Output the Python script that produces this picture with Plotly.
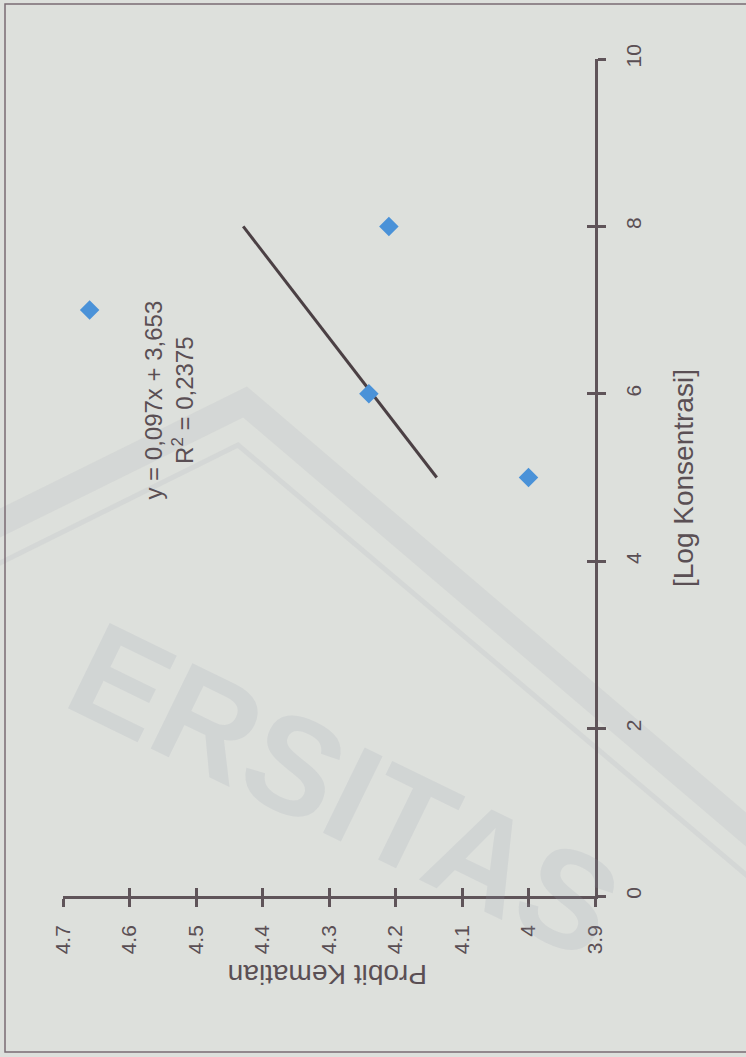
import plotly.graph_objects as go

# Observed data: log concentration vs. probit mortality
log_konsentrasi = [5, 6, 7, 8]
probit_kematian = [4.00, 4.24, 4.66, 4.21]

# Linear trendline reported on the chart
slope = 0.097
intercept = 3.653
trend_x = [5, 8]

# Axis ticks
probit_ticks = [3.9, 4.0, 4.1, 4.2, 4.3, 4.4, 4.5, 4.6, 4.7]
probit_ticktext = ["3.9", "4", "4.1", "4.2", "4.3", "4.4", "4.5", "4.6", "4.7"]
log_ticks = [0, 2, 4, 6, 8, 10]

BG = "#dde0dc"
INK = "#5a4f54"
AXIS = "#5f5459"
FONT = "Liberation Sans, Arial, sans-serif"

fig = go.Figure()

# trendline (page is laid out rotated: probit runs horizontally, log vertically)
fig.add_trace(go.Scatter(
    x=[slope * v + intercept for v in trend_x],
    y=trend_x,
    mode="lines",
    line=dict(color="#4b4044", width=3),
    hoverinfo="skip",
    showlegend=False,
))

fig.add_trace(go.Scatter(
    x=probit_kematian,
    y=log_konsentrasi,
    mode="markers",
    marker=dict(symbol="diamond", size=15, color="#4a92d8",
                line=dict(width=0)),
    showlegend=False,
))

common_axis = dict(
    showgrid=False, zeroline=False, showline=True,
    linecolor=AXIS, linewidth=2.5,
    ticks="outside", ticklen=8, tickwidth=2.5, tickcolor=AXIS,
    tickangle=-90,
    tickfont=dict(family=FONT, size=21, color=INK),
)

fig.update_layout(
    width=746, height=1057,
    margin=dict(l=63, r=151, t=59, b=161),
    paper_bgcolor=BG, plot_bgcolor=BG,
    font=dict(family=FONT, color=INK),
    xaxis=dict(
        range=[4.7, 3.9],
        tickmode="array", tickvals=probit_ticks, ticktext=probit_ticktext,
        ticklabelstandoff=10,
        **common_axis,
    ),
    yaxis=dict(
        range=[0, 10], side="right", anchor="x",
        tickmode="array", tickvals=log_ticks,
        ticklabelstandoff=10,
        **common_axis,
    ),
    # mirrored axes supply the inner half of the crossing tick marks
    xaxis2=dict(
        overlaying="x", range=[4.7, 3.9], side="bottom", anchor="y",
        tickmode="array", tickvals=probit_ticks,
        showticklabels=False, showgrid=False, zeroline=False, showline=False,
        ticks="inside", ticklen=8, tickwidth=2.5, tickcolor=AXIS,
    ),
    yaxis2=dict(
        overlaying="y", range=[0, 10], side="right", anchor="x",
        tickmode="array", tickvals=log_ticks,
        showticklabels=False, showgrid=False, zeroline=False, showline=False,
        ticks="inside", ticklen=8, tickwidth=2.5, tickcolor=AXIS,
    ),
)

# invisible trace to activate the mirrored axes
fig.add_trace(go.Scatter(x=[4.7], y=[0], xaxis="x2", yaxis="y2",
                         mode="markers", marker=dict(opacity=0),
                         hoverinfo="skip", showlegend=False))

def px_x(px):
    return (px - 63) / 532

def px_y(py):
    return (896 - py) / 837

# faint background watermark
fig.add_shape(type="path", xref="paper", yref="paper",
              path=f"M {px_x(-10)},{px_y(528)} L {px_x(245)},{px_y(402)} L {px_x(770)},{px_y(850)}",
              line=dict(color="rgba(160,163,178,0.14)", width=26), layer="below")
fig.add_shape(type="path", xref="paper", yref="paper",
              path=f"M {px_x(-10)},{px_y(568)} L {px_x(238)},{px_y(445)} L {px_x(770)},{px_y(895)}",
              line=dict(color="rgba(160,163,178,0.14)", width=5), layer="below")
fig.add_annotation(xref="paper", yref="paper", x=px_x(345), y=px_y(790),
                   xanchor="center", yanchor="middle",
                   text="<b>ERSITAS</b>", showarrow=False, textangle=26,
                   font=dict(family=FONT, size=138, color="rgba(150,155,172,0.16)"))

# page frame
fig.add_shape(type="rect", xref="paper", yref="paper",
              x0=px_x(5), x1=px_x(780), y0=px_y(1052), y1=px_y(4),
              line=dict(color="#7a6b73", width=1.5), layer="below")

# regression equation
fig.add_annotation(
    x=4.542, y=5.92, xref="x", yref="y",
    xanchor="center", yanchor="middle",
    text="y = 0,097x + 3,653<br>R<sup>2</sup> = 0,2375",
    showarrow=False, textangle=-90, align="center",
    font=dict(family=FONT, size=24, color=INK),
)

# axis titles
fig.add_annotation(
    xref="paper", yref="paper", x=px_x(683), y=px_y(478),
    xanchor="center", yanchor="middle",
    text="[Log Konsentrasi]", showarrow=False, textangle=-90,
    font=dict(family=FONT, size=28, color=INK),
)
fig.add_annotation(
    xref="paper", yref="paper", x=px_x(328), y=px_y(975),
    xanchor="center", yanchor="middle",
    text="Probit Kematian", showarrow=False, textangle=180,
    font=dict(family=FONT, size=28, color=INK),
)

fig.write_html("out.html")
